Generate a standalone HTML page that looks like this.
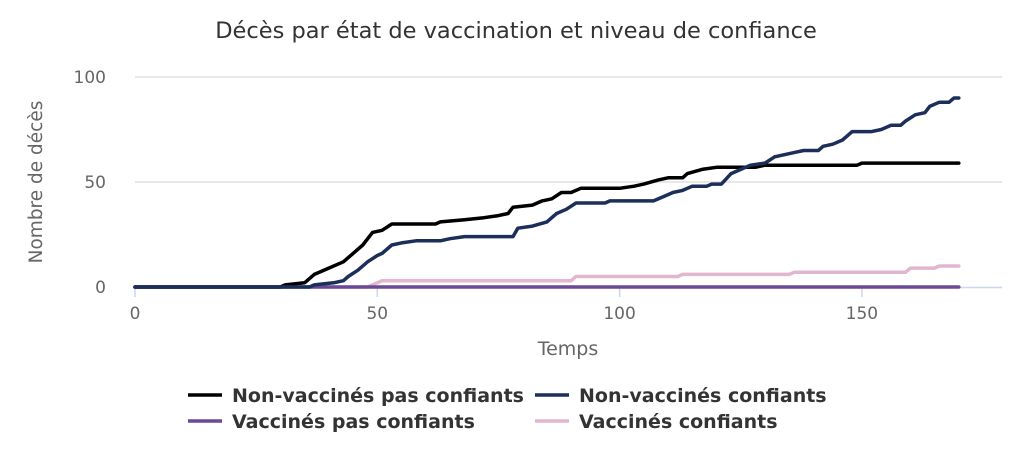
<!DOCTYPE html>
<html><head><meta charset="utf-8"><style>
body{margin:0;background:#fff;}
svg{display:block;font-family:"DejaVu Sans","Liberation Sans",sans-serif;}
</style></head><body>
<svg id="chart" width="1032" height="464">
<text x="516" y="38" text-anchor="middle" font-size="22.5" fill="#333">Décès par état de vaccination et niveau de confiance</text>
<g id="grid"></g><g id="axes"></g><g id="series"></g>
<text x="42" y="182" text-anchor="middle" font-size="18.5" fill="#666" transform="rotate(-90 42 182)">Nombre de décès</text>
<text x="568" y="355" text-anchor="middle" font-size="19" fill="#666">Temps</text>
<g id="legend"></g>
</svg>
<script>
const xTicks=[0,50,100,150];
const yTicks=[0,50,100];
const seriesNames=["Non-vaccinés pas confiants","Non-vaccinés confiants","Vaccinés pas confiants","Vaccinés confiants"];
const seriesColors=["#000000","#1c2f5a","#6a4a94","#e3b6d0"];
const tNVPC=[0,30,31,35,37,40,43,45,47,49,51,53,62,63,68,72,75,77,78,82,84,86,88,90,92,100,103,105,108,110,113,114,117,120,128,130,149,150,170];
const vNVPC=[0,0,1,2,6,9,12,16,20,26,27,30,30,31,32,33,34,35,38,39,41,42,45,45,47,47,48,49,51,52,52,54,56,57,57,58,58,59,59];
const tNVC=[0,36,37,41,43,44,46,48,50,51,53,55,58,63,65,68,78,79,82,85,87,89,91,97,98,107,110,111,113,115,118,119,121,123,125,127,130,132,134,136,138,141,142,144,146,148,152,154,156,158,159,161,163,164,166,168,169,170];
const vNVC=[0,0,1,2,3,5,8,12,15,16,20,21,22,22,23,24,24,28,29,31,35,37,40,40,41,41,44,45,46,48,48,49,49,54,56,58,59,62,63,64,65,65,67,68,70,74,74,75,77,77,79,82,83,86,88,88,90,90];
const tVPC=[0,170];
const vVPC=[0,0];
const tVC=[0,48,50,51,90,91,112,113,135,136,159,160,165,166,170];
const vVC=[0,0,2,3,3,5,5,6,6,7,7,9,9,10,10];

const NS="http://www.w3.org/2000/svg";
const x0=135,pxPerT=4.846,y0=287,pxPerV=2.1;
const xs=t=>x0+t*pxPerT, ys=v=>y0-v*pxPerV;
function mk(tag,attrs,parent){const e=document.createElementNS(NS,tag);for(const k in attrs)e.setAttribute(k,attrs[k]);parent.appendChild(e);return e;}
const grid=document.getElementById('grid'),axes=document.getElementById('axes'),ser=document.getElementById('series'),leg=document.getElementById('legend');
yTicks.forEach(v=>{
  if(v>0){const l=mk('line',{x1:135,x2:1002,y1:ys(v),y2:ys(v),stroke:'#e0e0e0','stroke-width':1.5},grid);
  
  }
  const t=mk('text',{x:106,y:ys(v)+6,'text-anchor':'end','font-size':17,fill:'#666'},axes);t.textContent=v;
  
  
});
const base=mk('line',{x1:135,x2:1002,y1:287.5,y2:287.5,stroke:'#ccd6eb','stroke-width':1.5},axes);


xTicks.forEach(v=>{
  const tk=mk('line',{x1:xs(v),x2:xs(v),y1:288,y2:297,stroke:'#ccd6eb','stroke-width':1.5},axes);
  
  
  const t=mk('text',{x:xs(v),y:319,'text-anchor':'middle','font-size':17,fill:'#666'},axes);t.textContent=v;
  
  
});
const data=[[tNVPC,vNVPC],[tNVC,vNVC],[tVPC,vVPC],[tVC,vVC]];
const order=[3,2,0,1];
order.forEach(i=>{
  const [T,V]=data[i];
  const pts=T.map((t,j)=>xs(t).toFixed(1)+','+ys(V[j]).toFixed(1)).join(' ');
  const p=mk('polyline',{points:pts,fill:'none',stroke:seriesColors[i],'stroke-width':3.5,'stroke-linejoin':'round','stroke-linecap':'round'},ser);
  
  
});
const lpos=[[188,395],[535,395],[188,421],[535,421]];
seriesNames.forEach((n,i)=>{
  const g=mk('g',{},leg);
  
  
  const [lx,ly]=lpos[i];
  mk('line',{x1:lx,x2:lx+34,y1:ly,y2:ly,stroke:seriesColors[i],'stroke-width':3.5},g);
  const t=mk('text',{x:lx+44,y:ly+7,'font-size':19,'font-weight':'bold',fill:'#333'},g);t.textContent=n;
});
</script>
</body></html>
